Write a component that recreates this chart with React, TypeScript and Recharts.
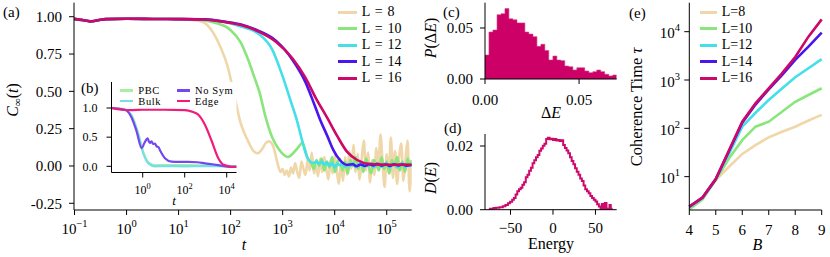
import React from "react";
import { Area, AreaChart, CartesianGrid, Line, LineChart, XAxis, YAxis } from "recharts";

const FONT = "Liberation Serif, DejaVu Serif, serif";

// ---------- (a) C_inf(t), samples as [log10 t, value] ----------
const earlyA = [[-1.01, 0.986], [-0.85, 0.978], [-0.7, 0.969], [-0.55, 0.976], [-0.4, 0.984], [0, 0.986], [0.5, 0.985], [1, 0.984]];

const l8Tail = [
  [1.2, 0.98], [1.42, 0.97], [1.55, 0.945], [1.67, 0.89], [1.8, 0.8], [1.94, 0.67], [2.06, 0.49], [2.19, 0.29],
  [2.33, 0.17], [2.44, 0.1], [2.52, 0.085], [2.6, 0.11], [2.68, 0.155], [2.74, 0.165], [2.82, 0.13], [2.9, 0.02],
  [2.96, -0.04], [3.0, -0.02], [3.04, -0.06], [3.08, -0.03], [3.12, -0.07], [3.16, -0.01], [3.2, -0.05], [3.24, 0.02],
  [3.28, -0.04], [3.32, -0.08], [3.36, 0.03], [3.4, -0.02], [3.44, -0.06], [3.48, 0.04], [3.52, -0.03], [3.56, 0.09],
  [3.6, -0.05], [3.64, 0.0], [3.68, -0.07], [3.72, 0.05], [3.76, -0.04], [3.8, 0.06], [3.84, -0.02], [3.88, -0.09],
  [3.92, 0.04], [3.96, -0.05], [4.0, 0.07], [4.04, -0.03], [4.08, -0.12], [4.12, 0.02], [4.16, -0.1], [4.2, 0.06],
  [4.24, -0.06], [4.28, 0.1], [4.32, -0.02], [4.36, 0.14], [4.4, -0.04], [4.44, 0.08], [4.48, -0.09], [4.52, 0.05],
  [4.56, 0.17], [4.6, -0.03], [4.64, 0.09], [4.68, -0.11], [4.72, 0.04], [4.76, -0.06], [4.8, 0.12], [4.84, -0.02],
  [4.88, 0.21], [4.92, 0.02], [4.96, -0.14], [5.0, 0.08], [5.04, -0.05], [5.08, 0.19], [5.12, -0.08], [5.16, 0.1],
  [5.2, -0.12], [5.24, 0.06], [5.28, 0.15], [5.32, -0.1], [5.36, 0.04], [5.4, 0.17], [5.44, -0.17], [5.48, 0.02],
];
const l10Tail = [
  [1.2, 0.982], [1.5, 0.975], [1.75, 0.955], [1.9, 0.935], [2.0, 0.91], [2.19, 0.83], [2.35, 0.7], [2.45, 0.6],
  [2.55, 0.5], [2.67, 0.33], [2.8, 0.19], [2.93, 0.11], [3.02, 0.075], [3.1, 0.06], [3.2, 0.085], [3.3, 0.125],
  [3.38, 0.155], [3.43, 0.11], [3.48, 0.05], [3.55, 0.02], [3.6, -0.02], [3.65, 0.04], [3.7, 0.0], [3.75, 0.05],
  [3.8, -0.03], [3.85, 0.03], [3.9, -0.01], [3.95, 0.06], [4.0, -0.04], [4.05, 0.02], [4.1, 0.05], [4.15, -0.03],
  [4.2, 0.03], [4.25, -0.05], [4.3, 0.04], [4.35, 0.0], [4.4, 0.06], [4.45, -0.02], [4.5, 0.03], [4.55, -0.04],
  [4.6, 0.05], [4.65, 0.0], [4.7, -0.05], [4.75, 0.04], [4.8, 0.01], [4.85, -0.03], [4.9, 0.06], [4.95, -0.02],
  [5.0, 0.03], [5.05, -0.05], [5.1, 0.04], [5.15, 0.0], [5.2, 0.06], [5.25, -0.03], [5.3, 0.03], [5.35, -0.04],
  [5.4, 0.05], [5.45, 0.0], [5.48, 0.04],
];
const l12Tail = [
  [1.5, 0.98], [1.9, 0.965], [2.15, 0.94], [2.54, 0.885], [2.8, 0.78], [3.0, 0.6], [3.15, 0.44], [3.27, 0.31],
  [3.375, 0.17], [3.47, 0.06], [3.59, 0.02], [3.65, 0.03], [3.7, 0.015], [3.75, 0.03], [3.8, 0.01], [3.85, 0.025],
  [3.9, 0.0], [3.95, 0.02], [4.0, -0.01], [4.05, 0.015], [4.1, 0.005], [4.15, 0.02], [4.2, -0.005], [4.25, 0.012],
  [4.3, 0.0], [4.35, 0.018], [4.4, -0.008], [4.45, 0.01], [4.5, 0.02], [4.55, -0.005], [4.6, 0.012], [4.65, 0.0],
  [4.7, 0.02], [4.75, -0.01], [4.8, 0.008], [4.85, 0.015], [4.9, -0.005], [4.95, 0.01], [5.0, 0.02], [5.05, -0.008],
  [5.1, 0.005], [5.15, 0.015], [5.2, -0.01], [5.25, 0.01], [5.3, 0.018], [5.35, -0.005], [5.4, 0.01], [5.45, 0.0],
  [5.48, 0.012],
];
const l14Tail = [
  [1.5, 0.982], [1.9, 0.966], [2.2, 0.948], [2.54, 0.905], [2.87, 0.84], [3.19, 0.71], [3.44, 0.56], [3.6, 0.42],
  [3.72, 0.31], [3.86, 0.2], [3.97, 0.11], [4.1, 0.04], [4.24, 0.007], [4.35, 0.012], [4.42, -0.002], [4.5, 0.01],
  [4.58, 0.0], [4.66, 0.012], [4.74, 0.003], [4.82, 0.014], [4.9, 0.002], [4.98, 0.01], [5.06, 0.0], [5.14, 0.012],
  [5.22, 0.004], [5.3, 0.01], [5.38, 0.002], [5.48, 0.008],
];
const l16Tail = [
  [1.5, 0.981], [1.9, 0.964], [2.2, 0.944], [2.54, 0.9], [2.87, 0.832], [3.19, 0.72], [3.44, 0.59], [3.63, 0.46],
  [3.86, 0.32], [4.05, 0.2], [4.24, 0.094], [4.43, 0.04], [4.68, 0.013], [4.9, 0.009], [5.1, 0.008], [5.3, 0.009],
  [5.48, 0.008],
];

const aXTicks = [0.1, 1, 10, 100, 1000, 10000, 100000];
const aXExps = ["−1", "0", "1", "2", "3", "4", "5"];
const aYTicks = [-0.25, 0, 0.25, 0.5, 0.75, 1];
const aYLabels = ["-0.25", "0.00", "0.25", "0.50", "0.75", "1.00"];

// ---------- (b) inset ----------
const pbc = [[-1.49, 1.0], [-1.0, 0.985], [-0.75, 0.955], [-0.52, 0.87], [-0.21, 0.56], [0.03, 0.24], [0.27, 0.07], [0.59, 0.02], [1.0, 0.02], [2.0, 0.02], [3.0, 0.015], [4.0, 0.01], [4.47, 0.005]];
const bulk = [[-1.49, 1.0], [-1.0, 0.98], [-0.75, 0.95], [-0.52, 0.86], [-0.21, 0.54], [0.03, 0.22], [0.27, 0.05], [0.59, 0.0], [1.0, 0.005], [2.0, 0.0], [3.0, 0.005], [4.0, 0.0], [4.47, 0.0]];
const noSym = [
  [-1.49, 1.0], [-1.2, 0.99], [-0.84, 0.97], [-0.52, 0.83], [-0.29, 0.6], [-0.05, 0.31], [0.08, 0.4], [0.24, 0.48],
  [0.3, 0.42], [0.35, 0.4], [0.42, 0.43], [0.5, 0.38], [0.58, 0.39], [0.67, 0.34], [0.75, 0.33], [0.82, 0.28],
  [1.06, 0.14], [1.38, 0.08], [1.7, 0.075], [2.16, 0.075], [2.6, 0.07], [2.97, 0.05], [3.3, 0.035], [3.6, 0.02],
  [3.95, 0.0], [4.3, -0.01], [4.47, -0.01],
];
const edge = [
  [-1.49, 1.0], [-1.0, 0.97], [-0.5, 0.965], [0, 0.97], [1.0, 0.97], [2.0, 0.965], [2.4, 0.93], [2.65, 0.885],
  [2.97, 0.71], [3.29, 0.43], [3.6, 0.14], [3.8, 0.04], [3.92, 0.02], [4.1, 0.0], [4.31, -0.01], [4.47, -0.01],
];
const bXTicks = [1, 100, 10000];
const bXExps = ["0", "2", "4"];
const bYTicks = [0, 0.5, 1];
const bYLabels = ["0.0", "0.5", "1.0"];

// ---------- (c) level-spacing histogram ----------
const cBinEdges = [
  0, 0.0021, 0.0042, 0.0064, 0.0085, 0.0106, 0.0127, 0.0148, 0.017, 0.0191, 0.0212, 0.0233, 0.0255, 0.0276, 0.0297,
  0.0318, 0.0339, 0.0361, 0.0382, 0.0403, 0.0424, 0.0445, 0.0467, 0.0488, 0.0509, 0.053, 0.0552, 0.0573, 0.0594,
  0.0615, 0.0636, 0.0658, 0.0679, 0.07,
];
const cCounts = [
  0.0235, 0.046, 0.048, 0.063, 0.064, 0.069, 0.059, 0.058, 0.055, 0.055, 0.046, 0.044, 0.0415, 0.032, 0.034, 0.028,
  0.0186, 0.0225, 0.0186, 0.018, 0.0127, 0.012, 0.0088, 0.011, 0.011, 0.0078, 0.0062, 0.0072, 0.0088, 0.0072, 0.0046,
  0.003, 0.0039,
];
const cTicks = [0, 0.05];
const cLabels = ["0.00", "0.05"];

// ---------- (d) density of states ----------
const dEnergy = [
  -76, -74, -70, -67, -63, -59, -56, -53, -50.5, -48, -46, -44, -42, -40, -38, -36, -34, -32, -30, -28, -26, -24, -22,
  -20, -18, -16, -14, -12, -10, -8, -6, -4, -2, 0, 2, 4, 6, 8, 10, 12, 14, 16, 18, 20, 22, 24, 26, 28, 30, 32, 34, 36,
  38, 40, 42, 44, 46, 48, 50, 52, 54, 56, 57.5, 59, 61, 63, 65, 66.5, 68, 69,
];
const dDensity = [
  0.0, 0.0003, 0.0005, 0.0006, 0.0008, 0.0011, 0.0015, 0.002, 0.0025, 0.0031, 0.0037, 0.0048, 0.0058, 0.0064, 0.0069,
  0.0078, 0.0086, 0.0102, 0.011, 0.0122, 0.0132, 0.0146, 0.0155, 0.0165, 0.0172, 0.0185, 0.0192, 0.0201, 0.0207,
  0.0222, 0.0226, 0.0221, 0.0223, 0.0219, 0.0222, 0.0217, 0.0219, 0.0216, 0.0218, 0.0203, 0.0194, 0.0186, 0.0177,
  0.0165, 0.0153, 0.0143, 0.013, 0.0119, 0.011, 0.0098, 0.009, 0.0076, 0.0064, 0.0058, 0.0052, 0.0043, 0.0037, 0.0031,
  0.0026, 0.0017, 0.001, 0.0002, 0.0018, 0.0002, 0.0021, 0.0003, 0.0002, 0.0015, 0.0003, 0.0,
];
const dXTicks = [-50, 0, 50];
const dXLabels = ["−50", "0", "50"];
const dYTicks = [0, 0.02];
const dYLabels = ["0.00", "0.02"];

// ---------- (e) coherence time vs B ----------
const bField = [4, 4.5, 5, 5.5, 6, 6.5, 7, 7.5, 8, 8.5, 9];
const tauL8 = [2.3, 3.5, 8.5, 16, 29.5, 45, 65, 85, 108, 145, 190];
const tauL10 = [2.1, 3.4, 8.5, 24, 57, 108, 137, 220, 355, 490, 675];
const tauL12 = [2.3, 3.6, 8.9, 30, 108, 210, 385, 670, 1140, 1750, 2700];
const tauL14 = [2.4, 3.7, 8.9, 34, 130, 310, 640, 1260, 2600, 4900, 9600];
const tauL16 = [2.4, 3.7, 8.9, 35, 137, 330, 670, 1370, 3000, 7900, 18000];
const eXTicks = [4, 5, 6, 7, 8, 9];
const eYTicks = [10, 100, 1000, 10000];
const eYExps = ["1", "2", "3", "4"];

const sizeColors = ["#efd7a9", "#8ae67c", "#45dfea", "#4a16ee", "#cc0868"];
const insetColors = ["#a9eea2", "#72e0e6", "#7448ee", "#f01c78"];

const toRows = (pts: number[][]) => pts.map(([lt, v]) => ({ t: 10 ** lt, v }));

const seriesA = [
  { name: "L = 8", pts: [...earlyA, ...l8Tail] },
  { name: "L = 10", pts: [...earlyA, ...l10Tail] },
  { name: "L = 12", pts: [...earlyA, ...l12Tail] },
  { name: "L = 14", pts: [...earlyA, ...l14Tail] },
  { name: "L = 16", pts: [...earlyA, ...l16Tail] },
];
const seriesB = [
  { name: "PBC", pts: pbc },
  { name: "Bulk", pts: bulk },
  { name: "No Sym", pts: noSym },
  { name: "Edge", pts: edge },
];
const seriesE = [
  { name: "L=8", tau: tauL8 },
  { name: "L=10", tau: tauL10 },
  { name: "L=12", tau: tauL12 },
  { name: "L=14", tau: tauL14 },
  { name: "L=16", tau: tauL16 },
];

const cRows = cBinEdges.map((x, i) => ({ x, v: cCounts[Math.min(i, cCounts.length - 1)] }));
const dRows = dEnergy.map((e, i) => ({ e, v: dDensity[i] }));
const eRows = bField.map((b, i) => {
  const row: Record<string, number> = { b };
  seriesE.forEach((s) => (row[s.name] = s.tau[i]));
  return row;
});

const black = { stroke: "#000", strokeWidth: 1 };

function powTick(ticks: number[], exps: string[], size: number, side: "bottom" | "left", shift: number) {
  return (props: any) => {
    const { x, y, payload } = props;
    const k = ticks.indexOf(payload.value);
    return (
      <text x={x} y={y + shift} textAnchor={side === "bottom" ? "middle" : "end"} fontSize={size} fontFamily={FONT} fill="#000">
        10<tspan dy={-size * 0.45} fontSize={size * 0.7}>{exps[k] ?? ""}</tspan>
      </text>
    );
  };
}

const fmt = (ticks: number[], labels: string[]) => (v: number) => labels[ticks.indexOf(v)] ?? "";

function Frame() {
  return [
    <XAxis key="ft" xAxisId="top" orientation="top" type="number" domain={[0, 1]} height={0} tick={false} tickLine={false} axisLine={black} />,
    <YAxis key="fr" yAxisId="right" orientation="right" type="number" domain={[0, 1]} width={0} tick={false} tickLine={false} axisLine={black} />,
  ];
}

function Legend({ items, colors, left, top, lineW, gap, row, size, spacing }: any) {
  return (
    <div style={{ position: "absolute", left, top, fontFamily: FONT, fontSize: size }}>
      {items.map((name: string, i: number) => (
        <div key={name} style={{ height: row, display: "flex", alignItems: "center" }}>
          <span style={{ display: "inline-block", width: lineW, height: 2.8, background: colors[i] }} />
          <span style={{ marginLeft: gap, whiteSpace: "pre", wordSpacing: spacing }}>{name}</span>
        </div>
      ))}
    </div>
  );
}

export default function App() {
  const tickText = { fill: "#000", fontSize: 15, fontFamily: FONT };
  return (
    <div style={{ position: "absolute", left: 0, top: 0, width: 830, height: 257, background: "#fff", overflow: "hidden", fontFamily: FONT }}>
      {/* (a) */}
      <div style={{ position: "absolute", left: 0, top: 0 }}>
        <LineChart width={420} height={257} margin={{ top: 2.7, right: 8.3, bottom: 0, left: 0 }}>
          <XAxis dataKey="t" type="number" scale="log" domain={[0.0977, 302000]} allowDataOverflow ticks={aXTicks} interval={0}
            height={47} tickSize={5} tickMargin={0} axisLine={black} tickLine={black} tick={powTick(aXTicks, aXExps, 15, "bottom", 18.5)} />
          <YAxis type="number" domain={[-0.295, 1.094]} allowDataOverflow ticks={aYTicks} interval={0} width={74} tickSize={5}
            tickMargin={7} axisLine={black} tickLine={black} tick={tickText} tickFormatter={fmt(aYTicks, aYLabels)} />
          {Frame()}
          {seriesA.map((s, i) => (
            <Line key={s.name} data={toRows(s.pts)} dataKey="v" name={s.name} type="monotone" stroke={sizeColors[i]}
              strokeWidth={2.6} dot={false} activeDot={false} isAnimationActive={false} />
          ))}
        </LineChart>
      </div>

      {/* (b) inset */}
      <div style={{ position: "absolute", left: 60, top: 77 }}>
        <LineChart width={180} height={130} margin={{ top: 5, right: 3.5, bottom: 0, left: 0 }}>
          <CartesianGrid fill="#fff" horizontal={false} vertical={false} />
          <XAxis dataKey="t" type="number" scale="log" domain={[0.0327, 29300]} allowDataOverflow ticks={bXTicks} interval={0}
            height={34.5} tickSize={5} tickMargin={0} axisLine={black} tickLine={black} tick={powTick(bXTicks, bXExps, 12, "bottom", 16.5)} />
          <YAxis type="number" domain={[-0.106, 1.446]} allowDataOverflow ticks={bYTicks} interval={0} width={51.5} tickSize={5}
            tickMargin={9} axisLine={black} tickLine={black} tick={{ ...tickText, fontSize: 12 }} tickFormatter={fmt(bYTicks, bYLabels)} />
          {Frame()}
          {seriesB.map((s, i) => (
            <Line key={s.name} data={toRows(s.pts)} dataKey="v" name={s.name} type="monotone" stroke={insetColors[i]}
              strokeWidth={2.2} dot={false} activeDot={false} isAnimationActive={false} />
          ))}
        </LineChart>
      </div>

      {/* (c) */}
      <div style={{ position: "absolute", left: 430, top: 0 }}>
        <AreaChart width={190} height={125} data={cRows} margin={{ top: 2.7, right: 3.3, bottom: 0, left: 0 }}>
          <XAxis dataKey="x" type="number" domain={[0, 0.07]} allowDataOverflow ticks={cTicks} interval={0} height={46}
            tickSize={5} tickMargin={10} axisLine={black} tickLine={black} tick={tickText} tickFormatter={fmt(cTicks, cLabels)} />
          <YAxis type="number" domain={[0, 0.0748]} allowDataOverflow ticks={cTicks} interval={0} width={55} tickSize={5}
            tickMargin={7} axisLine={black} tickLine={black} tick={tickText} tickFormatter={fmt(cTicks, cLabels)} />
          {Frame()}
          <Area dataKey="v" type="stepAfter" fill="#cc0066" fillOpacity={1} stroke="#d23c84" strokeWidth={0.6}
            dot={false} activeDot={false} isAnimationActive={false} />
        </AreaChart>
      </div>

      {/* (d) */}
      <div style={{ position: "absolute", left: 430, top: 128 }}>
        <LineChart width={190} height={129} data={dRows} margin={{ top: 6, right: 3.3, bottom: 0, left: 0 }}>
          <XAxis dataKey="e" type="number" domain={[-80, 75]} allowDataOverflow ticks={dXTicks} interval={0} height={47.3}
            tickSize={5} tickMargin={8} axisLine={black} tickLine={black} tick={tickText} tickFormatter={fmt(dXTicks, dXLabels)} />
          <YAxis type="number" domain={[0, 0.02377]} allowDataOverflow ticks={dYTicks} interval={0} width={55} tickSize={5}
            tickMargin={7} axisLine={black} tickLine={black} tick={tickText} tickFormatter={fmt(dYTicks, dYLabels)} />
          {Frame()}
          <Line dataKey="v" type="stepAfter" stroke="#cc0a6c" strokeWidth={2} dot={false} activeDot={false} isAnimationActive={false} />
        </LineChart>
      </div>

      {/* (e) */}
      <div style={{ position: "absolute", left: 630, top: 0 }}>
        <LineChart width={200} height={257} data={eRows} margin={{ top: 2.7, right: 8.3, bottom: 0, left: 0 }}>
          <XAxis dataKey="b" type="number" domain={[4, 9]} ticks={eXTicks} interval={0} height={47} tickSize={5} tickMargin={9}
            axisLine={black} tickLine={black} tick={tickText} />
          <YAxis type="number" scale="log" domain={[2.04, 39800]} allowDataOverflow ticks={eYTicks} interval={0} width={59.3}
            tickSize={5} tickMargin={4.3} axisLine={black} tickLine={black} tick={powTick(eYTicks, eYExps, 15, "left", 6.5)} />
          {Frame()}
          {seriesE.map((s, i) => (
            <Line key={s.name} dataKey={s.name} type="linear" stroke={sizeColors[i]} strokeWidth={2.6} dot={false}
              activeDot={false} isAnimationActive={false} />
          ))}
        </LineChart>
      </div>

      <Legend items={seriesA.map((s) => s.name)} colors={sizeColors} left={338.3} top={4} lineW={18.4} gap={5} row={16.5} size={14} spacing={1.5} />
      <Legend items={seriesE.map((s) => s.name)} colors={sizeColors} left={700} top={4} lineW={16.7} gap={5} row={16.5} size={14} spacing={0} />
      {/* inset legend, two columns */}
      <div style={{ position: "absolute", left: 120, top: 85.4, fontFamily: FONT, fontSize: 10.5, display: "flex" }}>
        {[0, 1].map((col) => (
          <div key={col} style={{ width: col === 0 ? 56.7 : 60 }}>
            {seriesB.slice(col * 2, col * 2 + 2).map((s, j) => (
              <div key={s.name} style={{ height: 10.6, display: "flex", alignItems: "center" }}>
                <span style={{ display: "inline-block", width: 13.3, height: 2.4, background: insetColors[col * 2 + j] }} />
                <span style={{ marginLeft: 5, letterSpacing: 0.6, whiteSpace: "pre" }}>{s.name}</span>
              </div>
            ))}
          </div>
        ))}
      </div>

      <svg width={830} height={257} style={{ position: "absolute", left: 0, top: 0, pointerEvents: "none" }} fontFamily={FONT} fill="#000">
        <text x={3} y={17} fontSize={15}>(a)</text>
        <text x={81} y={93} fontSize={15}>(b)</text>
        <text x={443} y={17} fontSize={15}>(c)</text>
        <text x={444} y={133} fontSize={15}>(d)</text>
        <text x={629} y={18} fontSize={15}>(e)</text>

        <text x={244} y={250} textAnchor="middle" fontSize={16} fontStyle="italic">t</text>
        <text transform="translate(18,100) rotate(-90)" textAnchor="middle" fontSize={16}>
          <tspan fontStyle="italic">C</tspan><tspan fontSize={11} dy={3}>∞</tspan><tspan dy={-3}>(</tspan><tspan fontStyle="italic">t</tspan>)
        </text>
        <text x={174} y={205} textAnchor="middle" fontSize={13} fontStyle="italic">t</text>

        <text x={551} y={118} textAnchor="middle" fontSize={16}>Δ<tspan fontStyle="italic">E</tspan></text>
        <text transform="translate(436,38) rotate(-90)" textAnchor="middle" fontSize={16}>
          <tspan fontStyle="italic">P</tspan>(Δ<tspan fontStyle="italic">E</tspan>)
        </text>

        <text x={551} y={249} textAnchor="middle" fontSize={16}>Energy</text>
        <text transform="translate(436,178) rotate(-90)" textAnchor="middle" fontSize={16}>
          <tspan fontStyle="italic">D</tspan>(<tspan fontStyle="italic">E</tspan>)
        </text>

        <text x={757.5} y={250} textAnchor="middle" fontSize={16} fontStyle="italic">B</text>
        <text transform="translate(642,107) rotate(-90)" textAnchor="middle" fontSize={16.5}>
          Coherence Time <tspan fontStyle="italic">τ</tspan>
        </text>
      </svg>
    </div>
  );
}
